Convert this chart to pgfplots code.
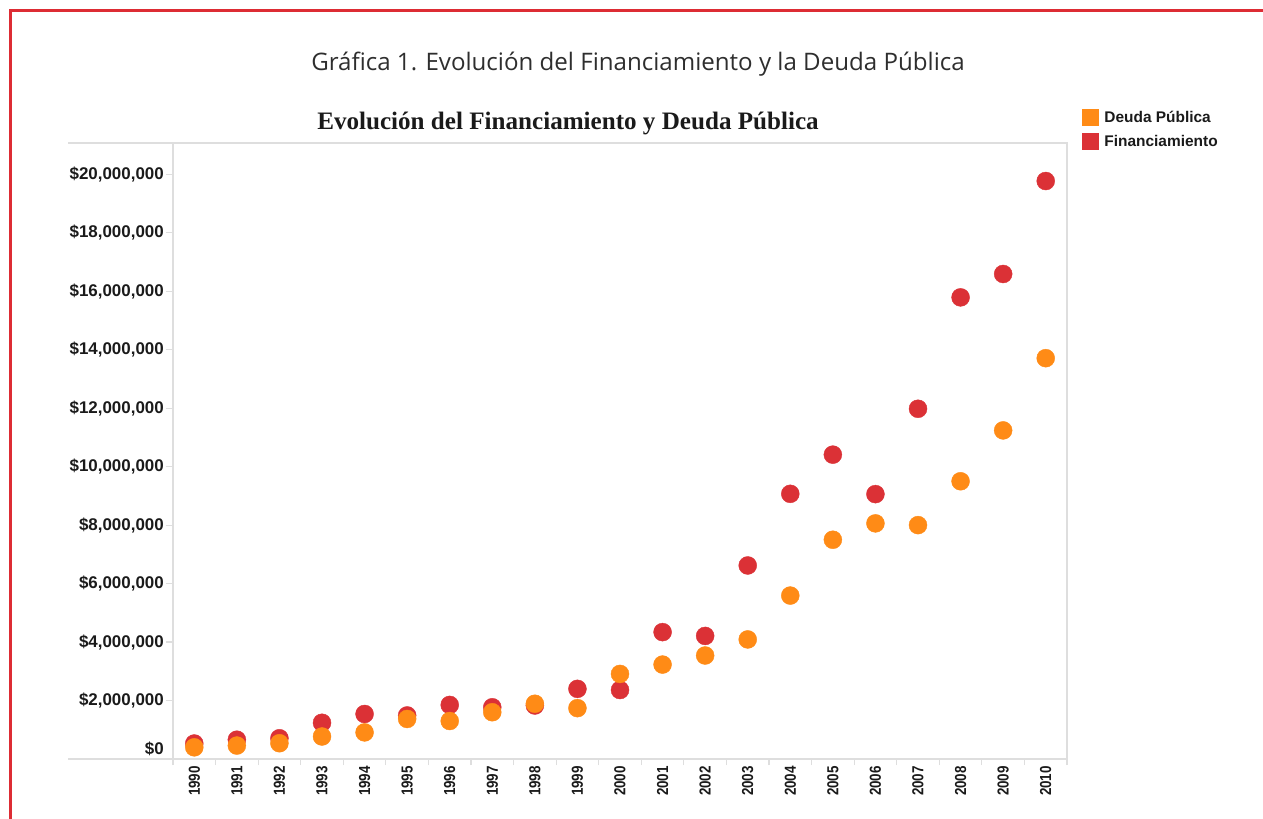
\documentclass[border=0pt]{standalone}
\usepackage{fontspec}
\setmainfont{Liberation Sans}
\newfontfamily\titlefont{Open Sans}
\newfontfamily\seriffont{Liberation Serif}
\newfontfamily\narrowfont[FakeStretch=0.84]{Liberation Sans}
\usepackage{pgfplots}
\usepackage{pgfplotstable}
\pgfplotsset{compat=1.18}
\definecolor{fred}{RGB}{219,49,54}
\definecolor{forange}{RGB}{255,139,22}
\definecolor{framered}{RGB}{221,44,52}
\definecolor{axgray}{RGB}{222,222,222}
\definecolor{txt}{RGB}{26,26,26}

\pgfplotstableread{
x year fin deu
0 1990 530000 400000
1 1991 660000 460000
2 1992 710000 540000
3 1993 1240000 770000
4 1994 1540000 910000
5 1995 1490000 1370000
6 1996 1850000 1300000
7 1997 1770000 1600000
8 1998 1830000 1890000
9 1999 2400000 1740000
10 2000 2360000 2910000
11 2001 4340000 3230000
12 2002 4210000 3540000
13 2003 6620000 4090000
14 2004 9070000 5590000
15 2005 10410000 7500000
16 2006 9060000 8060000
17 2007 11980000 8000000
18 2008 15790000 9500000
19 2009 16590000 11240000
20 2010 19770000 13710000
}\datatable

\begin{document}
\begin{tikzpicture}
\useasboundingbox (0bp,0bp) rectangle (1263bp,-819bp);
\draw[framered, line width=3bp] (10bp,-819bp) -- (10bp,-10.5bp) -- (1263bp,-10.5bp);
\node[font=\titlefont\fontsize{24.2}{24.2}\selectfont, text=black!82, anchor=base] at (638bp,-70bp) {Gráfica 1. Evolución del Financiamiento y la Deuda Pública};
\node[font=\seriffont\bfseries\fontsize{25.2}{25.2}\selectfont, text=txt, anchor=base] at (568bp,-129.3bp) {Evolución del Financiamiento y Deuda Pública};
\draw[axgray, line width=1.2bp] (68bp,-143bp) -- (1067bp,-143bp);
\draw[axgray, line width=1.2bp] (68bp,-759bp) -- (1067bp,-759bp);
\draw[axgray, line width=1.2bp] (1067bp,-143bp) -- (1067bp,-765bp);
\begin{axis}[
  at={(173bp,-759bp)}, anchor=south west,
  scale only axis, width=894bp, height=616bp,
  xmin=-0.5, xmax=20.5, ymin=0, ymax=21.07e6,
  axis line style={axgray, line width=1.2bp},
  tick align=outside, tick pos=left,
  major tick length=7bp, minor tick length=6bp,
  tick style={axgray, line width=1.2bp},
  major x tick style={draw=none},
  xtick={0,...,20},
  minor xtick={-0.5,0.5,...,20.5},
  xticklabels={1990,1991,1992,1993,1994,1995,1996,1997,1998,1999,2000,2001,2002,2003,2004,2005,2006,2007,2008,2009,2010},
  x tick label style={rotate=90, anchor=east, inner sep=0pt, text=txt, font=\narrowfont\bfseries\fontsize{16}{16}\selectfont},
  ytick={0,2000000,4000000,6000000,8000000,10000000,12000000,14000000,16000000,18000000,20000000},
  scaled y ticks=false,
  yticklabels={{\raisebox{10.5bp}[\height][\depth]{\$0}},{\$2,000,000},{\$4,000,000},{\$6,000,000},{\$8,000,000},{\$10,000,000},{\$12,000,000},{\$14,000,000},{\$16,000,000},{\$18,000,000},{\$20,000,000}},
  y tick label style={anchor=east, inner sep=0pt, text=txt, xshift=-2bp, font=\bfseries\fontsize{17}{17}\selectfont},
  legend cell align=left,
  legend style={draw=none, fill=none, inner sep=0pt, outer sep=0pt, row sep=8bp, column sep=6bp,
    at={(axis description cs:1.0168,1.0552)}, anchor=north west,
    font=\bfseries\fontsize{15.5}{15.5}\selectfont, text=txt,
    nodes={inner sep=0pt}},
]
\addlegendimage{legend image code/.code={\fill[forange] (0bp,-8bp) rectangle (16bp,8bp);}}
\addlegendentry{Deuda Pública}
\addlegendimage{legend image code/.code={\fill[fred] (0bp,-8bp) rectangle (16bp,8bp);}}
\addlegendentry{Financiamiento}
\addplot[only marks, mark=*, mark size=9bp, color=fred, mark options={draw=none, fill=fred}, forget plot] table[x=x, y=fin] {\datatable};
\addplot[only marks, mark=*, mark size=9bp, color=forange, mark options={draw=none, fill=forange}, forget plot] table[x=x, y=deu] {\datatable};
\end{axis}
\end{tikzpicture}
\end{document}
